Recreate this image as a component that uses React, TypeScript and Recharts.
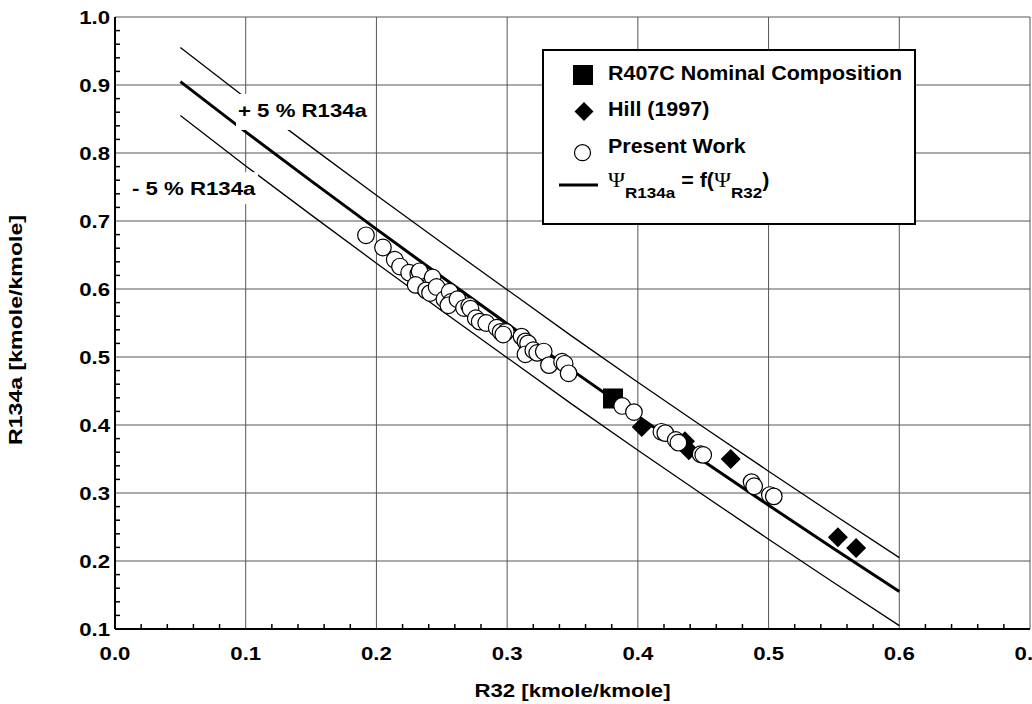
import React from 'react';
import { ScatterChart, Scatter, XAxis, YAxis, CartesianGrid, Legend } from 'recharts';

// ---------- data ----------
const xMajorTicks = [0.0, 0.1, 0.2, 0.3, 0.4, 0.5, 0.6, 0.7];
const yMajorTicks = [0.1, 0.2, 0.3, 0.4, 0.5, 0.6, 0.7, 0.8, 0.9, 1.0];
const xAllTicks = [
  0.0, 0.02, 0.04, 0.06, 0.08, 0.1, 0.12, 0.14, 0.16, 0.18, 0.2, 0.22, 0.24, 0.26, 0.28, 0.3,
  0.32, 0.34, 0.36, 0.38, 0.4, 0.42, 0.44, 0.46, 0.48, 0.5, 0.52, 0.54, 0.56, 0.58, 0.6,
  0.62, 0.64, 0.66, 0.68, 0.7,
];
const yAllTicks = [
  0.1, 0.12, 0.14, 0.16, 0.18, 0.2, 0.22, 0.24, 0.26, 0.28, 0.3, 0.32, 0.34, 0.36, 0.38, 0.4,
  0.42, 0.44, 0.46, 0.48, 0.5, 0.52, 0.54, 0.56, 0.58, 0.6, 0.62, 0.64, 0.66, 0.68, 0.7,
  0.72, 0.74, 0.76, 0.78, 0.8, 0.82, 0.84, 0.86, 0.88, 0.9, 0.92, 0.94, 0.96, 0.98, 1.0,
];

const xTitle = 'R32 [kmole/kmole]';
const yTitle = 'R134a [kmole/kmole]';
const seriesNames = ['R407C Nominal Composition', 'Hill (1997)', 'Present Work'];
const plusLabel = '+ 5 % R134a';
const minusLabel = '- 5 % R134a';

// fitted curve and +/- 5 % band
const fitR32 = [0.05, 0.1, 0.15, 0.2, 0.25, 0.3, 0.35, 0.4, 0.45, 0.5, 0.55, 0.6];
const fitR134a = [0.905, 0.831, 0.759, 0.688, 0.618, 0.549, 0.480, 0.413, 0.347, 0.282, 0.218, 0.155];
const upperR134a = [0.955, 0.881, 0.809, 0.738, 0.668, 0.599, 0.530, 0.463, 0.397, 0.332, 0.268, 0.205];
const lowerR134a = [0.855, 0.781, 0.709, 0.638, 0.568, 0.499, 0.430, 0.363, 0.297, 0.232, 0.168, 0.105];

// R407C nominal composition
const nominalR32 = [0.381];
const nominalR134a = [0.439];

// Hill (1997)
const hillR32 = [0.403, 0.436, 0.439, 0.471, 0.553, 0.567];
const hillR134a = [0.397, 0.376, 0.363, 0.350, 0.235, 0.219];

// Present work
const pwR32 = [
  0.192, 0.205, 0.214, 0.218, 0.225, 0.232, 0.233, 0.243, 0.230, 0.238,
  0.241, 0.246, 0.252, 0.256, 0.257, 0.255, 0.262, 0.267, 0.271, 0.272,
  0.276, 0.279, 0.284, 0.292, 0.295, 0.299, 0.297, 0.311, 0.314, 0.316,
  0.314, 0.320, 0.323, 0.328, 0.332, 0.342, 0.344, 0.347, 0.388, 0.397,
  0.418, 0.421, 0.429, 0.431, 0.448, 0.450, 0.487, 0.489, 0.501, 0.504,
];
const pwR134a = [
  0.679, 0.661, 0.643, 0.633, 0.624, 0.622, 0.626, 0.617, 0.606, 0.598,
  0.594, 0.603, 0.585, 0.596, 0.581, 0.576, 0.585, 0.572, 0.575, 0.571,
  0.557, 0.552, 0.550, 0.543, 0.537, 0.537, 0.533, 0.530, 0.523, 0.520,
  0.504, 0.510, 0.506, 0.508, 0.488, 0.493, 0.490, 0.476, 0.428, 0.419,
  0.390, 0.388, 0.378, 0.374, 0.357, 0.356, 0.316, 0.310, 0.297, 0.295,
];

// anchors (data coords) of the two band labels
const plusLabelAt = [{ x: 0.0941, y: 0.853 }];
const minusLabelAt = [{ x: 0.013, y: 0.738 }];

const zip = (xs: number[], ys: number[]) => xs.map((x, i) => ({ x, y: ys[i] }));
const fitData = zip(fitR32, fitR134a);
const upperData = zip(fitR32, upperR134a);
const lowerData = zip(fitR32, lowerR134a);
const nominalData = zip(nominalR32, nominalR134a);
const hillData = zip(hillR32, hillR134a);
const pwData = zip(pwR32, pwR134a);

// ---------- styling helpers ----------
const FONT = 'Liberation Sans, Arial, Helvetica, sans-serif';
const TICK_FS = 18.5;
const TICK_SX = 1.2;
const LEG_FS = 19.5;
const LEG_SX = 1.1;

const isMajor = (v: number) => Math.abs(v * 10 - Math.round(v * 10)) < 1e-6;

const XTick = (props: any) => {
  const { x, y, payload } = props;
  const v = payload.value as number;
  if (isMajor(v)) {
    return (
      <text
        transform={`translate(${x},${y + 30.5}) scale(${TICK_SX},1)`}
        textAnchor="middle"
        fontFamily={FONT}
        fontWeight="bold"
        fontSize={TICK_FS}
        fill="#000"
      >
        {v.toFixed(1)}
      </text>
    );
  }
  return <line x1={x} y1={y} x2={x} y2={y - 5} stroke="#000" strokeWidth={1.5} />;
};

const YTick = (props: any) => {
  const { x, y, payload } = props;
  const v = payload.value as number;
  if (isMajor(v)) {
    return (
      <text
        transform={`translate(${x - 5},${y + 6.6}) scale(${TICK_SX},1)`}
        textAnchor="end"
        fontFamily={FONT}
        fontWeight="bold"
        fontSize={TICK_FS}
        fill="#000"
      >
        {v.toFixed(1)}
      </text>
    );
  }
  return <line x1={x} y1={y} x2={x + 5} y2={y} stroke="#000" strokeWidth={1.5} />;
};

const XTitle = (props: any) => {
  const vb = props.viewBox || {};
  return (
    <text
      transform={`translate(${vb.x + vb.width / 2},${vb.y + 68}) scale(${TICK_SX},1)`}
      textAnchor="middle"
      fontFamily={FONT}
      fontWeight="bold"
      fontSize={TICK_FS}
      fill="#000"
    >
      {xTitle}
    </text>
  );
};

const YTitle = (props: any) => {
  const vb = props.viewBox || {};
  return (
    <text
      transform={`translate(${vb.x + 22},${vb.y + vb.height / 2 + 7}) rotate(-90) scale(1.25,1)`}
      textAnchor="middle"
      fontFamily={FONT}
      fontWeight="bold"
      fontSize={TICK_FS}
      fill="#000"
    >
      {yTitle}
    </text>
  );
};

const noShape = () => <g />;
const squareShape = (p: any) => (
  <rect x={p.cx - 10} y={p.cy - 10} width={20} height={20} fill="#000" />
);
const diamondShape = (p: any) => (
  <polygon
    points={`${p.cx},${p.cy - 10} ${p.cx + 10},${p.cy} ${p.cx},${p.cy + 10} ${p.cx - 10},${p.cy}`}
    fill="#000"
  />
);
const circleShape = (p: any) => (
  <circle cx={p.cx} cy={p.cy} r={8.3} fill="#fff" stroke="#000" strokeWidth={1.2} />
);

const makeBandLabel = (text: string, dx: number, top: number, w: number, h: number) => (p: any) => (
  <g>
    <rect x={p.cx + dx} y={p.cy - top} width={w} height={h} fill="#fff" />
    <text
      transform={`translate(${p.cx},${p.cy}) scale(${TICK_SX},1)`}
      fontFamily={FONT}
      fontWeight="bold"
      fontSize={TICK_FS}
      fill="#000"
    >
      {text}
    </text>
  </g>
);
const plusShape = makeBandLabel(plusLabel, -2, 23, 127, 36);
const minusShape = makeBandLabel(minusLabel, -4, 23, 130, 32);

const LEG_W = 374;
const LEG_H = 176;

const LegendBox = () => {
  const txt = (y: number, s: string) => (
    <text
      transform={`translate(66,${y}) scale(${LEG_SX},1)`}
      fontFamily={FONT}
      fontWeight="bold"
      fontSize={LEG_FS}
      fill="#000"
    >
      {s}
    </text>
  );
  return (
    <svg width={LEG_W} height={LEG_H} style={{ display: 'block' }}>
      <rect x={1} y={1} width={LEG_W - 2} height={LEG_H - 2} fill="#fff" stroke="#000" strokeWidth={2} />
      <rect x={31} y={16} width={20} height={20} fill="#000" />
      <polygon points="42,53 51.5,62.5 42,72 32.5,62.5" fill="#000" />
      <circle cx={40.5} cy={103.7} r={8} fill="#fff" stroke="#000" strokeWidth={1.2} />
      <line x1={17} y1={136} x2={56} y2={136} stroke="#000" strokeWidth={3} />
      {txt(30.5, seriesNames[0])}
      {txt(67, seriesNames[1])}
      {txt(103.5, seriesNames[2])}
      <text
        transform={`translate(66,138) scale(${LEG_SX},1)`}
        fontFamily={FONT}
        fontWeight="bold"
        fontSize={LEG_FS}
        fill="#000"
      >
        <tspan fontFamily="Liberation Serif, Times New Roman, serif" fontWeight="normal" fontSize={21}>
          Ψ
        </tspan>
        <tspan fontSize={15.5} dy={11}>
          R134a
        </tspan>
        <tspan dy={-11}> = f(</tspan>
        <tspan fontFamily="Liberation Serif, Times New Roman, serif" fontWeight="normal" fontSize={21}>
          Ψ
        </tspan>
        <tspan fontSize={15.5} dy={11}>
          R32
        </tspan>
        <tspan dy={-11}>)</tspan>
      </text>
    </svg>
  );
};

export default function App() {
  return (
    <div style={{ position: 'absolute', left: 0, top: 0, width: 1032, height: 704, background: '#fff' }}>
      <ScatterChart width={1032} height={704} margin={{ top: 17, right: 2, bottom: 0, left: 0 }}>
        <CartesianGrid
          stroke="#555"
          strokeWidth={1}
          verticalValues={xMajorTicks}
          horizontalValues={yMajorTicks}
        />
        <XAxis
          type="number"
          dataKey="x"
          domain={[0, 0.7]}
          allowDataOverflow
          ticks={xAllTicks}
          interval={0}
          tick={<XTick />}
          tickLine={false}
          tickSize={0}
          tickMargin={0}
          axisLine={{ stroke: '#000', strokeWidth: 2 }}
          height={75}
          label={XTitle}
        />
        <YAxis
          type="number"
          dataKey="y"
          domain={[0.1, 1.0]}
          allowDataOverflow
          ticks={yAllTicks}
          interval={0}
          tick={<YTick />}
          tickLine={false}
          tickSize={0}
          tickMargin={0}
          axisLine={{ stroke: '#000', strokeWidth: 2 }}
          width={115}
          label={YTitle}
        />
        <XAxis
          xAxisId="top"
          orientation="top"
          type="number"
          dataKey="x"
          domain={[0, 0.7]}
          allowDataOverflow
          ticks={xAllTicks}
          interval={0}
          mirror
          height={0}
          tick={false}
          tickSize={5}
          tickLine={{ stroke: '#000', strokeWidth: 1.5 }}
          axisLine={{ stroke: '#000', strokeWidth: 2 }}
        />
        <YAxis
          yAxisId="right"
          orientation="right"
          type="number"
          dataKey="y"
          domain={[0.1, 1.0]}
          allowDataOverflow
          ticks={yAllTicks}
          interval={0}
          mirror
          width={0}
          tick={false}
          tickSize={5}
          tickLine={{ stroke: '#000', strokeWidth: 1.5 }}
          axisLine={{ stroke: '#000', strokeWidth: 2 }}
        />
        <Scatter
          name="upper"
          data={upperData}
          xAxisId="top"
          yAxisId="right"
          line={{ stroke: '#000', strokeWidth: 1.3 }}
          stroke="#000"
          shape={noShape}
          isAnimationActive={false}
          legendType="none"
        />
        <Scatter
          name="lower"
          data={lowerData}
          line={{ stroke: '#000', strokeWidth: 1.3 }}
          stroke="#000"
          shape={noShape}
          isAnimationActive={false}
          legendType="none"
        />
        <Scatter
          name="fit"
          data={fitData}
          line={{ stroke: '#000', strokeWidth: 3 }}
          stroke="#000"
          shape={noShape}
          isAnimationActive={false}
          legendType="none"
        />
        <Scatter name="plusLabel" data={plusLabelAt} shape={plusShape} isAnimationActive={false} legendType="none" />
        <Scatter name="minusLabel" data={minusLabelAt} shape={minusShape} isAnimationActive={false} legendType="none" />
        <Scatter name={seriesNames[0]} data={nominalData} shape={squareShape} isAnimationActive={false} />
        <Scatter name={seriesNames[1]} data={hillData} shape={diamondShape} isAnimationActive={false} />
        <Scatter name={seriesNames[2]} data={pwData} shape={circleShape} isAnimationActive={false} />
        <Legend
          layout="vertical"
          align="center"
          verticalAlign="middle"
          content={LegendBox}
          wrapperStyle={{ left: 542, top: 49, width: LEG_W, height: LEG_H }}
        />
      </ScatterChart>
    </div>
  );
}
